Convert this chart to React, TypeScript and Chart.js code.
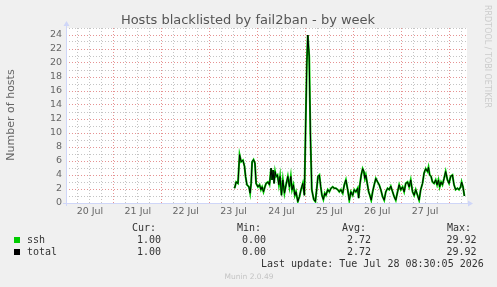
import React, { useEffect, useRef } from 'react';
import { Chart, registerables } from 'chart.js';

Chart.register(...registerables);

// Time axis: hours since 20 Jul 00:00
const hours = [
  84.5, 85.3, 86.2, 87, 87.8, 88.7, 89.5, 90, 90.7, 91.7, 92.3, 92.8, 93.3, 94, 94.7, 95.3,
  96.2, 97, 97.7, 98.3, 99, 99.7, 100.3, 101.2, 102, 102.8, 103.3, 103.8, 104.3, 104.8, 105.3,
  106, 106.7, 107.3, 108, 108.7, 109.5, 110.3, 111.2, 112, 112.7, 113.3, 114, 114.7, 115.3,
  116.2, 117, 117.8, 118.7, 119.5, 120, 120.7, 121.2, 121.9, 122.5, 123.2, 124.2, 125, 125.7,
  126.3, 127, 127.7, 128.3, 129, 129.7, 130.3, 131.2, 132, 132.8, 133.7, 134.5, 135.3, 136.2,
  137, 137.8, 138.7, 139.5, 140.3, 141.2, 142, 142.8, 143.7, 144.5, 145.3, 146.2, 146.7, 147.3,
  148, 148.7, 149.3, 149.8, 150.3, 151, 151.7, 152.3, 153, 153.7, 154.5, 155.3, 156.2, 157,
  157.8, 158.7, 159.5, 160.3, 161.2, 162, 162.8, 163.7, 164.5, 165.3, 166.2, 167, 167.8, 168.7,
  169.5, 170.3, 171.2, 172, 172.8, 173.7, 174.5, 175.3, 176.2, 177, 177.8, 178.7, 179.5, 180.3,
  181.2, 181.7, 182.3, 183, 183.7, 184.5, 185.3, 186, 186.7, 187.3, 188, 188.7, 189.5, 190.3,
  191.2, 192, 192.8, 193.7, 194.5, 195.3, 196.2, 197, 197.8, 198.3, 199, 199.7,
];

const sshValues = [
  2.1, 3.0, 2.8, 6.9, 5.9, 6.1, 5.2, 3.8, 2.6, 2.3, 1.4, 2.8, 5.9, 6.2, 5.7, 2.8,
  2.3, 2.6, 1.9, 2.3, 1.6, 2.3, 2.8, 3.0, 2.6, 5.0, 3.3, 4.7, 2.8, 4.5, 3.8,
  4.0, 2.6, 3.8, 1.1, 3.3, 1.4, 2.6, 3.8, 2.3, 3.8, 1.9, 2.6, 1.1, 1.6,
  0.2, 0.9, 1.9, 2.8, 1.1, 9.0, 20.0, 24.0, 21.0, 10.0, 1.9, 0.5, 0.2, 2.1,
  3.8, 4.0, 2.3, 1.1, 0.5, 1.4, 1.1, 1.9, 1.6, 2.1, 2.3, 2.1, 2.1, 1.9,
  1.6, 1.9, 1.4, 2.6, 3.3, 1.9, 0.4, 1.6, 1.1, 1.9, 1.6, 2.1, 0.7, 2.6,
  4.0, 4.9, 4.5, 3.5, 4.0, 2.8, 1.6, 1.1, 0.4, 1.6, 2.6, 3.5, 3.0, 2.6,
  1.9, 0.9, 0.4, 1.6, 2.1, 1.9, 2.4, 1.6, 0.9, 0.4, 1.6, 2.6, 1.9, 2.3,
  1.6, 2.8, 3.0, 2.3, 3.3, 1.6, 1.1, 1.9, 1.1, 0.4, 1.9, 2.8, 4.3, 4.9,
  4.5, 5.1, 4.0, 3.8, 3.0, 2.8, 3.3, 2.6, 3.3, 2.3, 3.0, 2.6, 3.5, 4.5,
  3.3, 2.8, 3.8, 4.0, 2.6, 1.9, 2.1, 1.9, 2.3, 3.0, 2.3, 1.0,
];

const totalValues = [
  2.1, 3.0, 2.8, 6.9, 5.9, 6.1, 5.2, 3.8, 2.6, 2.3, 1.4, 2.8, 5.9, 6.2, 5.7, 2.8,
  2.3, 2.6, 1.9, 2.3, 1.6, 2.3, 2.8, 3.0, 2.6, 5.0, 3.3, 4.7, 2.8, 4.5, 3.8,
  4.0, 2.6, 3.8, 1.1, 3.3, 1.4, 2.6, 3.8, 2.3, 3.8, 1.9, 2.6, 1.1, 1.6,
  0.2, 0.9, 1.9, 2.8, 1.1, 9.0, 20.0, 24.0, 21.0, 10.0, 1.9, 0.5, 0.2, 2.1,
  3.8, 4.0, 2.3, 1.1, 0.5, 1.4, 1.1, 1.9, 1.6, 2.1, 2.3, 2.1, 2.1, 1.9,
  1.6, 1.9, 1.4, 2.6, 3.3, 1.9, 0.4, 1.6, 1.1, 1.9, 1.6, 2.1, 0.7, 2.6,
  4.0, 4.9, 4.5, 3.5, 4.0, 2.8, 1.6, 1.1, 0.4, 1.6, 2.6, 3.5, 3.0, 2.6,
  1.9, 0.9, 0.4, 1.6, 2.1, 1.9, 2.4, 1.6, 0.9, 0.4, 1.6, 2.6, 1.9, 2.3,
  1.6, 2.8, 3.0, 2.3, 3.3, 1.6, 1.1, 1.9, 1.1, 0.4, 1.9, 2.8, 4.3, 4.9,
  4.5, 5.1, 4.0, 3.8, 3.0, 2.8, 3.3, 2.6, 3.3, 2.3, 3.0, 2.6, 3.5, 4.5,
  3.3, 2.8, 3.8, 4.0, 2.6, 1.9, 2.1, 1.9, 2.3, 3.0, 2.3, 1.0,
];

const dayLabels = ['20 Jul', '21 Jul', '22 Jul', '23 Jul', '24 Jul', '25 Jul', '26 Jul', '27 Jul'];
const X_MIN_HOURS = 0;
const X_MAX_HOURS = 200.5;
const Y_MIN = 0;
const Y_MAX = 25;

const seriesNames = ['ssh', 'total'];
const seriesColors = ['#00cc00', '#000000'];
const curValues = [1.0, 1.0];
const minValues = [0.0, 0.0];
const avgValues = [2.72, 2.72];
const maxValues = [29.92, 29.92];
const legendHeaders = ['Cur:', 'Min:', 'Avg:', 'Max:'];

const TITLE = 'Hosts blacklisted by fail2ban - by week';
const Y_TITLE = 'Number of hosts';
const LAST_UPDATE = 'Last update: Tue Jul 28 08:30:05 2026';
const VERSION = 'Munin 2.0.49';
const WATERMARK = 'RRDTOOL / TOBI OETIKER';

const W = 497;
const H = 287;
const AXIS_COLOR = '#cfd6f8';
const MAJOR_GRID = 'rgba(220,100,100,0.7)';
const MINOR_GRID = '#c4c4c4';

export default function App() {
  const ref = useRef<HTMLCanvasElement>(null);

  useEffect(() => {
    const canvas = ref.current;
    if (!canvas) return;

    const muninPlugin = {
      id: 'muninDecor',
      beforeDraw(chart: any) {
        const { ctx, chartArea: a } = chart;
        ctx.save();
        ctx.fillStyle = '#f0f0f0';
        ctx.fillRect(0, 0, chart.width, chart.height);
        ctx.fillStyle = '#ffffff';
        ctx.fillRect(a.left, a.top, a.right - a.left + 1, a.bottom - a.top + 1);
        ctx.restore();
      },
      beforeDatasetsDraw(chart: any) {
        const { ctx, chartArea: a } = chart;
        ctx.save();
        ctx.strokeStyle = AXIS_COLOR;
        ctx.fillStyle = AXIS_COLOR;
        ctx.lineWidth = 1;
        const yb = Math.round(a.bottom) + 0.5;
        const xl = Math.round(a.left) + 0.5;
        ctx.beginPath();
        ctx.moveTo(a.left - 3, yb);
        ctx.lineTo(a.right + 3, yb);
        ctx.moveTo(xl, a.bottom + 3);
        ctx.lineTo(xl, a.top - 3);
        ctx.stroke();
        ctx.beginPath();
        ctx.moveTo(a.right + 2, yb - 3);
        ctx.lineTo(a.right + 7, yb);
        ctx.lineTo(a.right + 2, yb + 3);
        ctx.closePath();
        ctx.fill();
        ctx.beginPath();
        ctx.moveTo(xl - 3, a.top - 2);
        ctx.lineTo(xl, a.top - 7);
        ctx.lineTo(xl + 3, a.top - 2);
        ctx.closePath();
        ctx.fill();
        ctx.restore();
      },
      afterDraw(chart: any) {
        const { ctx } = chart;
        ctx.save();
        ctx.fillStyle = '#555555';
        ctx.font = '13px "DejaVu Sans"';
        ctx.textAlign = 'center';
        ctx.textBaseline = 'alphabetic';
        ctx.fillText(TITLE, 248, 23.5);

        ctx.save();
        ctx.fillStyle = '#666666';
        ctx.font = '11px "DejaVu Sans"';
        ctx.translate(11.5, 115);
        ctx.rotate(-Math.PI / 2);
        ctx.textAlign = 'center';
        ctx.textBaseline = 'middle';
        ctx.fillText(Y_TITLE, 0, 0);
        ctx.restore();

        ctx.save();
        ctx.fillStyle = '#cccccc';
        ctx.font = '8px "DejaVu Sans"';
        ctx.translate(487.5, 5);
        ctx.rotate(Math.PI / 2);
        ctx.textAlign = 'left';
        ctx.textBaseline = 'middle';
        ctx.fillText(WATERMARK, 0, 0);
        ctx.restore();

        ctx.font = '10px "DejaVu Sans Mono"';
        ctx.fillStyle = '#333333';
        ctx.textBaseline = 'alphabetic';
        ctx.textAlign = 'left';
        const headerX = [132, 237, 342, 447];
        const valueRight = [161, 266, 371, 476.5];
        legendHeaders.forEach((h, i) => ctx.fillText(h, headerX[i], 231));
        seriesNames.forEach((name, r) => {
          const base = 243 + r * 12;
          ctx.fillStyle = seriesColors[r];
          ctx.fillRect(14, base - 6, 6, 6);
          ctx.fillStyle = '#333333';
          ctx.textAlign = 'left';
          ctx.fillText(name, 27, base);
          ctx.textAlign = 'right';
          const vals = [curValues[r], minValues[r], avgValues[r], maxValues[r]];
          vals.forEach((v, i) => ctx.fillText(v.toFixed(2), valueRight[i], base));
        });
        ctx.textAlign = 'left';
        ctx.fillText(LAST_UPDATE, 261, 267);

        ctx.fillStyle = '#c4c4c4';
        ctx.font = '7.5px "DejaVu Sans"';
        ctx.textAlign = 'center';
        ctx.fillText(VERSION, 249, 278.5);
        ctx.restore();
      },
    };

    const toPoints = (vals: number[]) => vals.map((v, i) => ({ x: hours[i], y: v }));

    const chart = new Chart(canvas, {
      type: 'line',
      data: {
        datasets: [
          {
            label: seriesNames[0],
            data: toPoints(sshValues),
            borderColor: seriesColors[0],
            borderWidth: 2,
            pointRadius: 0,
            tension: 0,
            fill: false,
            order: 2,
          },
          {
            label: seriesNames[1],
            data: toPoints(totalValues),
            borderColor: seriesColors[1],
            borderWidth: 1,
            pointRadius: 0,
            tension: 0,
            fill: false,
            order: 1,
          },
        ],
      },
      options: {
        responsive: false,
        animation: false,
        devicePixelRatio: 1,
        events: [],
        layout: { padding: { top: 28, left: 0, right: 31, bottom: 0 } },
        plugins: {
          legend: { display: false },
          title: { display: false },
          tooltip: { enabled: false },
        },
        scales: {
          x: {
            type: 'linear',
            min: X_MIN_HOURS,
            max: X_MAX_HOURS,
            afterFit: (s: any) => {
              s.height = 84;
            },
            afterBuildTicks: (s: any) => {
              const t = [];
              for (let h = 0; h <= X_MAX_HOURS; h += 6) t.push({ value: h });
              s.ticks = t;
            },
            ticks: {
              autoSkip: false,
              maxRotation: 0,
              padding: 3,
              color: '#666666',
              font: { family: 'DejaVu Sans', size: 9.5 },
              callback: (v: any) => {
                const n = Number(v);
                return n % 24 === 12 ? dayLabels[(n - 12) / 24] ?? '' : '';
              },
            },
            grid: {
              drawTicks: false,
              lineWidth: 1,
              color: (c: any) => (c.tick && c.tick.value % 24 === 0 ? MAJOR_GRID : MINOR_GRID),
            },
            border: { display: false, dash: [1, 2] },
          },
          y: {
            type: 'linear',
            min: Y_MIN,
            max: Y_MAX,
            afterFit: (s: any) => {
              s.width = 66;
            },
            afterBuildTicks: (s: any) => {
              const t = [];
              for (let v = Y_MIN; v <= Y_MAX; v += 1) t.push({ value: v });
              s.ticks = t;
            },
            ticks: {
              autoSkip: false,
              padding: 4,
              color: '#666666',
              font: { family: 'DejaVu Sans', size: 9.5 },
              callback: (v: any) => {
                const n = Number(v);
                return n % 2 === 0 && n < Y_MAX ? String(n) : '';
              },
            },
            grid: {
              drawTicks: false,
              lineWidth: 1,
              color: (c: any) =>
                c.tick && c.tick.value % 2 === 0 && c.tick.value !== 0 && c.tick.value < Y_MAX
                  ? MAJOR_GRID
                  : MINOR_GRID,
            },
            border: { display: false, dash: [1, 2] },
          },
        },
      },
      plugins: [muninPlugin],
    });

    return () => chart.destroy();
  }, []);

  return (
    <div style={{ position: 'absolute', left: 0, top: 0, width: W, height: H }}>
      <canvas ref={ref} width={W} height={H} style={{ display: 'block', width: W, height: H }} />
    </div>
  );
}
